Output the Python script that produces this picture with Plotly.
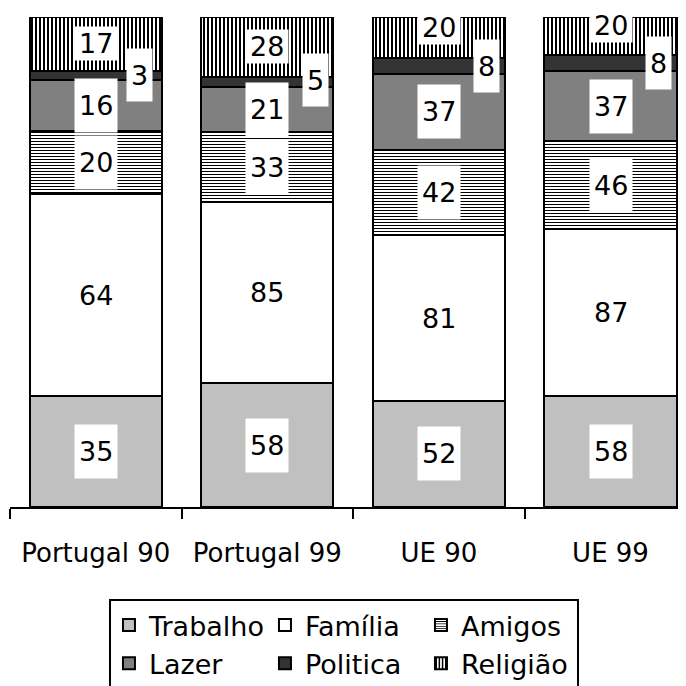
import numpy as np
import plotly.graph_objects as go

categories = ["Portugal 90", "Portugal 99", "UE 90", "UE 99"]
series_names = ["Trabalho", "Família", "Amigos", "Lazer", "Politica", "Religião"]
trabalho = [35, 58, 52, 58]
familia = [64, 85, 81, 87]
amigos = [20, 33, 42, 46]
lazer = [16, 21, 37, 37]
politica = [3, 5, 8, 8]
religiao = [17, 28, 20, 20]

values = [trabalho, familia, amigos, lazer, politica, religiao]

FONT = "DejaVu Sans"
BAR_W = 0.77

styles = [
    dict(color="#C0C0C0"),
    dict(color="#FFFFFF"),
    dict(color="#FFFFFF", pattern=dict(shape="-", fgcolor="#000000", bgcolor="#FFFFFF", size=3, solidity=1/3, fillmode="replace")),
    dict(color="#808080"),
    dict(color="#333333"),
    dict(color="#FFFFFF", pattern=dict(shape="|", fgcolor="#000000", bgcolor="#FFFFFF", size=4, solidity=0.5, fillmode="replace")),
]
# legend columns (3 columns x 2 rows)
legend_groups = ["c1", "c2", "c3", "c1", "c2", "c3"]
# label offsets (px) per series / category
label_xshift = [[0] * 4, [0] * 4, [0] * 4, [0] * 4, [44, 48, 48, 48], [0] * 4]
label_yshift = [[0] * 4, [0] * 4, [0] * 4, [0] * 4, [0, 2, 0, 0], [0, 0, 10, 11]]
label_h = [45, 45, 45, 45, 44, 25]

fig = go.Figure()
for name, vals, st, grp in zip(series_names, values, styles, legend_groups):
    marker = dict(color=st["color"], line=dict(color="#000000", width=2))
    if "pattern" in st:
        marker["pattern"] = st["pattern"]
    fig.add_trace(go.Bar(name=name, x=list(range(len(categories))), y=vals,
                         width=BAR_W, marker=marker, cliponaxis=False,
                         legendgroup=grp, hoverinfo="skip"))

arr = np.array(values, dtype=float)
tot = arr.sum(axis=0)
pct = arr / tot * 100
cum = np.cumsum(pct, axis=0)

# series connector lines
lx, ly = [], []
hw = BAR_W / 2
for k in range(len(series_names)):
    for i in range(len(categories) - 1):
        lx += [i + hw, i + 1 - hw, None]
        ly += [cum[k][i], cum[k][i + 1], None]
fig.add_trace(go.Scatter(x=lx, y=ly, mode="lines", line=dict(color="#000000", width=1),
                         showlegend=False, hoverinfo="skip", cliponaxis=False))

annotations = []
for k in range(len(series_names)):
    for i in range(len(categories)):
        mid = cum[k][i] - pct[k][i] / 2
        annotations.append(dict(
            x=i, y=mid, xref="x", yref="y", text=str(values[k][i]), showarrow=False,
            font=dict(family=FONT, size=27, color="#000000"),
            bgcolor="#FFFFFF", borderpad=4, height=label_h[k],
            xshift=label_xshift[k][i], yshift=label_yshift[k][i]))

# page body has an 8px default margin, so the figure is 678x678 drawn at (8, 8)
fig.update_layout(
    width=678, height=678,
    margin=dict(l=2, r=0, t=9, b=179, pad=0, autoexpand=False),
    paper_bgcolor="#FFFFFF", plot_bgcolor="#FFFFFF",
    barmode="stack", barnorm="percent",
    font=dict(family=FONT, size=26, color="#000000"),
    annotations=annotations,
    showlegend=True,
    legend=dict(orientation="h", x=0.1464, xanchor="left", y=-0.1878, yanchor="top",
                bordercolor="#000000", borderwidth=2, bgcolor="#FFFFFF",
                font=dict(family=FONT, size=27, color="#000000"),
                traceorder="grouped", tracegroupgap=0,
                entrywidth=111, entrywidthmode="pixels"),
    xaxis=dict(range=[-0.5, 3.44], tickmode="array", tickvals=list(range(4)), ticktext=categories,
               showline=True, linecolor="#000000", linewidth=2, ticks="outside", ticklen=10,
               tickwidth=2, tickcolor="#000000", showgrid=False, zeroline=False, automargin=False,
               ticklabelstandoff=22,
               tickfont=dict(family=FONT, size=26, color="#000000")),
    yaxis=dict(range=[0, 100], visible=False, showgrid=False, zeroline=False, automargin=False),
)
fig.update_xaxes(type="category", tickson="boundaries")

fig.write_html("out.html")
